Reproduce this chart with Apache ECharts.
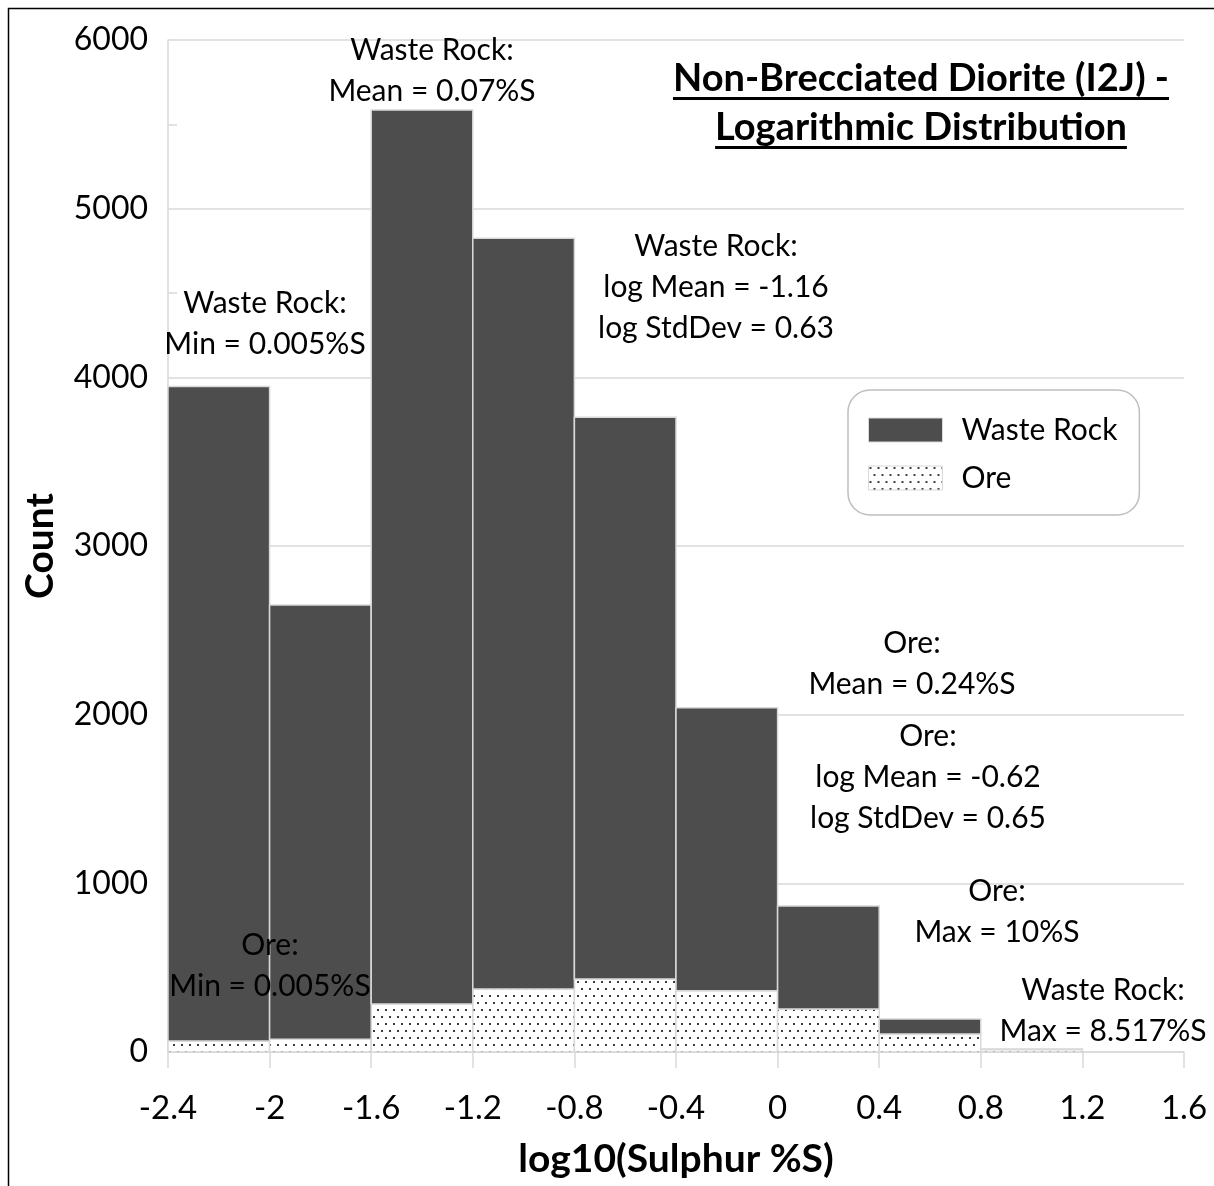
<!DOCTYPE html>
<html>
<head>
<meta charset="utf-8">
<script src="https://cdn.jsdelivr.net/npm/echarts@6/dist/echarts.min.js"></script>
<style>
html,body{margin:0;padding:0;background:#fff;}
#chart{width:1214px;height:1186px;}
</style>
</head>
<body>
<div id="chart"></div>
<script>
// ---- Data ----
const binEdges = [-2.4, -2.0, -1.6, -1.2, -0.8, -0.4, 0.0, 0.4, 0.8, 1.2];
const oreCounts = [65, 75, 285, 373, 433, 363, 255, 107, 15];
const wasteCounts = [3880, 2575, 5300, 4451, 3330, 1678, 611, 89, 3];
const yTicks = [0, 1000, 2000, 3000, 4000, 5000, 6000];
const xTickLabels = ['-2.4', '-2', '-1.6', '-1.2', '-0.8', '-0.4', '0', '0.4', '0.8', '1.2', '1.6'];

const titleLines = ['Non-Brecciated Diorite (I2J) -', 'Logarithmic Distribution'];
const annotations = [
  { lines: ['Waste Rock:', 'Min = 0.005%S'], x: 265, y: 324 },
  { lines: ['Waste Rock:', 'Mean = 0.07%S'], x: 432, y: 71 },
  { lines: ['Waste Rock:', 'log Mean = -1.16', 'log StdDev = 0.63'], x: 716, y: 287 },
  { lines: ['Ore:', 'Mean = 0.24%S'], x: 912, y: 664 },
  { lines: ['Ore:', 'log Mean = -0.62', 'log StdDev = 0.65'], x: 928, y: 777 },
  { lines: ['Ore:', 'Max = 10%S'], x: 997, y: 912 },
  { lines: ['Waste Rock:', 'Max = 8.517%S'], x: 1103, y: 1011 },
  { lines: ['Ore:', 'Min = 0.005%S'], x: 270, y: 966 }
];

const FONT = 'Lato';
const DARK = '#4d4d4d';
const EDGE = '#d9d9d9';

// dotted pattern for Ore
const pat = document.createElement('canvas');
pat.width = 8; pat.height = 14;
(function(){
  const c = pat.getContext('2d');
  c.fillStyle = '#fff'; c.fillRect(0, 0, 8, 14);
  c.fillStyle = '#3a3a3a';
  c.fillRect(1, 1, 2, 2);
  c.fillRect(5, 8, 2, 2);
})();
const orePattern = { image: pat, repeat: 'repeat' };

// build bin data: [x0, x1, y0, y1]
const oreData = oreCounts.map((v, i) => [binEdges[i], binEdges[i + 1], 0, v]);
const wasteData = wasteCounts.map((v, i) => [binEdges[i], binEdges[i + 1], oreCounts[i], oreCounts[i] + v]);

function makeRender(fill) {
  return function (params, api) {
    const p0 = api.coord([api.value(0), api.value(2)]);
    const p1 = api.coord([api.value(1), api.value(3)]);
    return {
      type: 'rect',
      shape: { x: p0[0], y: p1[1], width: p1[0] - p0[0], height: p0[1] - p1[1] },
      style: { fill: fill, stroke: EDGE, lineWidth: 1.5 }
    };
  };
}

// measure text for underlines
const mctx = document.createElement('canvas').getContext('2d');
function textWidth(str, font) { mctx.font = font; return mctx.measureText(str).width; }

const titleFont = 'bold 38px ' + FONT;
const titleX = 921, titleYs = [79, 128];
const graphics = [
  { type: 'rect', left: 6, top: 6, shape: { x: 0, y: 0, width: 1400, height: 1400 },
    style: { fill: 'none', stroke: '#000', lineWidth: 1.5 }, silent: true, z: 0 }
];
titleLines.forEach((t, i) => {
  graphics.push({ type: 'text', x: titleX, y: titleYs[i],
    style: { text: t, font: titleFont, fill: '#000', align: 'center', verticalAlign: 'middle' }, z: 10 });
  const w = textWidth(t, titleFont);
  graphics.push({ type: 'rect', shape: { x: titleX - w / 2, y: titleYs[i] + 18, width: w, height: 3 },
    style: { fill: '#000' }, z: 10 });
});
annotations.forEach(a => {
  graphics.push({ type: 'text', x: a.x, y: a.y,
    style: { text: a.lines.join('\n'), font: '30px ' + FONT, lineHeight: 41, fill: '#000',
      align: 'center', verticalAlign: 'middle' }, z: 10 });
});

const chart = echarts.init(document.getElementById('chart'), null, { renderer: 'canvas' });
chart.setOption({
  backgroundColor: '#fff',
  animation: false,
  textStyle: { fontFamily: FONT },
  grid: { left: 168, right: 30, top: 40, bottom: 134 },
  legend: {
    left: 848, top: 390,
    orient: 'vertical',
    backgroundColor: '#fff',
    borderColor: '#bfbfbf', borderWidth: 1.5, borderRadius: 22,
    padding: [25, 22, 22, 20],
    itemWidth: 74, itemHeight: 24, itemGap: 18,
    icon: 'rect',
    textStyle: { fontSize: 30, fontFamily: FONT, color: '#000', lineHeight: 30, padding: [0, 0, 0, 14] },
    data: [
      { name: 'Waste Rock', itemStyle: { color: DARK, borderColor: EDGE, borderWidth: 1 } },
      { name: 'Ore', itemStyle: { color: orePattern, borderColor: EDGE, borderWidth: 1 } }
    ]
  },
  xAxis: {
    type: 'value', min: -2.4, max: 1.6, interval: 0.4,
    name: 'log10(Sulphur %S)', nameLocation: 'middle', nameGap: 88,
    nameTextStyle: { fontSize: 39, fontWeight: 'bold', fontFamily: FONT, color: '#000' },
    axisLine: { show: true, onZero: false, lineStyle: { color: EDGE, width: 1.5 } },
    axisTick: { show: true, length: 16, lineStyle: { color: EDGE, width: 1.5 } },
    axisLabel: { fontSize: 33, color: '#000', margin: 40,
      formatter: v => xTickLabels[Math.round((v - binEdges[0]) / 0.4)] },
    splitLine: { show: false }
  },
  yAxis: {
    type: 'value', min: yTicks[0], max: yTicks[yTicks.length - 1], interval: 1000,
    name: 'Count', nameLocation: 'middle', nameGap: 108, nameRotate: 90,
    nameTextStyle: { fontSize: 39, fontWeight: 'bold', fontFamily: FONT, color: '#000' },
    axisLine: { show: true, onZero: false, lineStyle: { color: EDGE, width: 1.5 } },
    axisTick: { show: false, inside: true },
    minorTick: { show: true, splitNumber: 2, length: 9, lineStyle: { color: EDGE, width: 1.5 } },
    axisLabel: { fontSize: 32, color: '#000', margin: 20, formatter: v => String(v) },
    splitLine: { show: true, lineStyle: { color: EDGE, width: 1.5 } }
  },
  series: [
    { name: 'Ore', type: 'custom', renderItem: makeRender(orePattern),
      itemStyle: { color: orePattern }, encode: { x: [0, 1], y: [2, 3] }, data: oreData, z: 2 },
    { name: 'Waste Rock', type: 'custom', renderItem: makeRender(DARK),
      itemStyle: { color: DARK }, encode: { x: [0, 1], y: [2, 3] }, data: wasteData, z: 2 }
  ],
  graphic: graphics
});
</script>
</body>
</html>
